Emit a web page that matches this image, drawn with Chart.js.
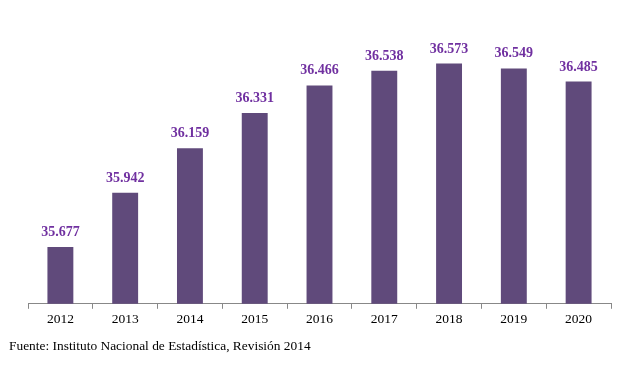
<!DOCTYPE html>
<html><head><meta charset="utf-8">
<script src="https://cdn.jsdelivr.net/npm/chart.js@4/dist/chart.umd.min.js"></script>
<style>
html,body{margin:0;padding:0;background:#fff;}
#wrap{position:relative;width:622px;height:369px;}
#src{position:absolute;left:9px;top:338px;font-family:"Liberation Serif","Times New Roman",serif;font-size:13.4px;color:#000;white-space:nowrap;}
</style></head>
<body>
<div id="wrap"><canvas id="c" width="622" height="369"></canvas>
<div id="src">Fuente: Instituto Nacional de Estadística, Revisión 2014</div></div>
<script>
const categories = ["2012","2013","2014","2015","2016","2017","2018","2019","2020"];
const values = [35.677,35.942,36.159,36.331,36.466,36.538,36.573,36.549,36.485];
const labelPlugin = {
  id:'vals',
  afterDatasetsDraw(chart){
    const ctx = chart.ctx;
    const meta = chart.getDatasetMeta(0);
    ctx.save();
    ctx.font = 'bold 14px "Liberation Serif", serif';
    ctx.fillStyle = '#7030A0';
    ctx.textAlign = 'center';
    ctx.textBaseline = 'alphabetic';
    meta.data.forEach((el,i)=>{
      ctx.fillText(values[i].toFixed(3), el.x, el.y - 11);
    });
    ctx.restore();
  }
};
new Chart(document.getElementById('c'),{
  type:'bar',
  data:{labels:categories,datasets:[{data:values,backgroundColor:'#604A7B',barPercentage:0.5,categoryPercentage:0.8}]},
  options:{
    responsive:false,animation:false,
    layout:{padding:{left:28,right:11,top:17,bottom:38}},
    plugins:{legend:{display:false},tooltip:{enabled:false}},
    scales:{
      y:{display:false,min:35.4,max:36.8},
      x:{
        grid:{display:true,drawOnChartArea:false,drawTicks:true,tickLength:5,color:'#888',offset:true},
        border:{display:true,color:'#888'},
        ticks:{color:'#000',font:{family:'"Liberation Serif", serif',size:13.5},padding:3}
      }
    }
  },
  plugins:[labelPlugin]
});
</script>
</body></html>
